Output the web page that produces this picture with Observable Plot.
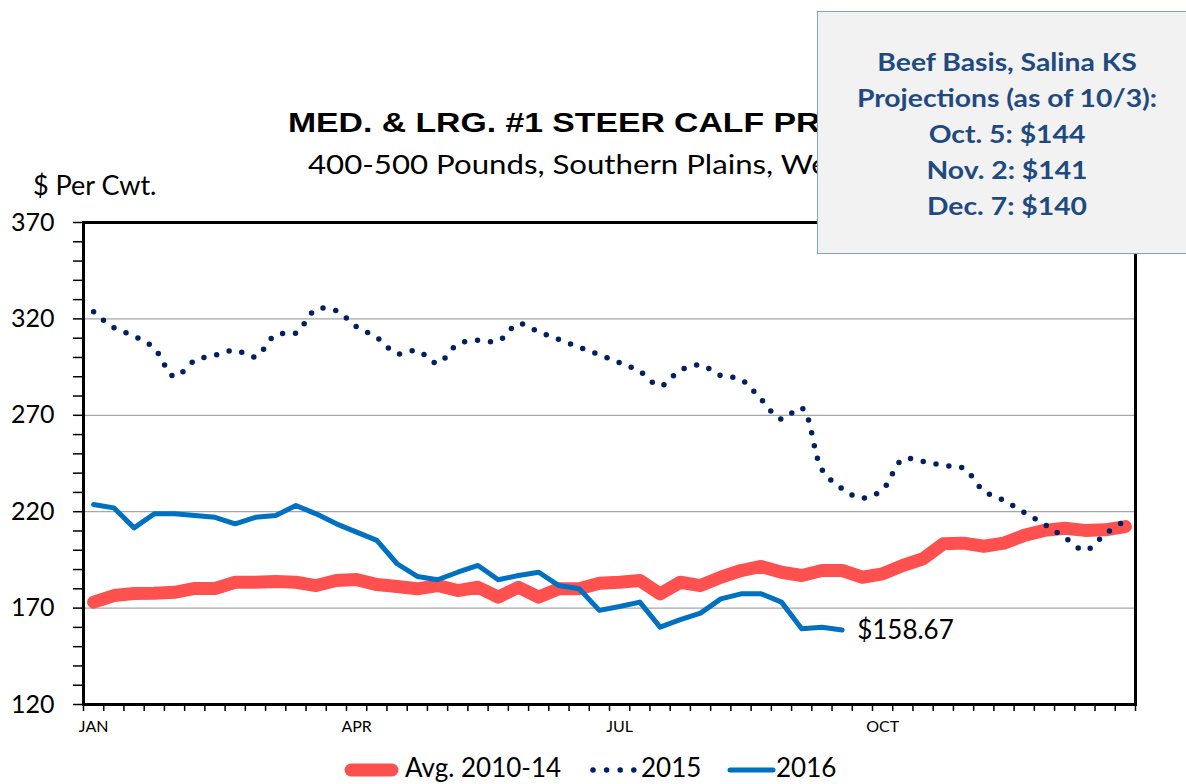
<!DOCTYPE html>
<html>
<head>
<meta charset="utf-8">
<script src="https://cdn.jsdelivr.net/npm/d3@7"></script>
<script src="https://cdn.jsdelivr.net/npm/@observablehq/plot@0.6"></script>
<style>
  html, body { margin: 0; padding: 0; background: #fff; }
  #wrap { position: relative; width: 1186px; height: 784px; overflow: hidden; font-family: Lato, "Open Sans", sans-serif; }
  #chart, #overlay { position: absolute; left: 0; top: 0; }
  #box { position: absolute; left: 817px; top: 11px; width: 390px; height: 243px; background: #F2F2F2; border: 1.5px solid #7FA2D2; box-sizing: border-box; }
  #boxtext { position: absolute; left: 0; top: 0; }
</style>
</head>
<body>
<div id="wrap">
  <div id="chart"></div>
  <svg id="overlay" width="1186" height="784"></svg>
  <div id="box"></div>
  <svg id="boxtext" width="1186" height="784"></svg>
</div>
<script>
// ---- Data (weekly, $ per cwt) ----
const weeks = d3.range(1, 53);
const avg2010_14 = [173.1,176.5,177.6,177.7,178.2,180.2,180.2,183.4,183.4,183.8,
  183.4,181.7,184.3,184.8,182.2,181.2,180.0,181.7,179.1,180.8,
  175.7,180.8,175.7,180.0,180.0,182.9,183.4,184.3,177.4,183.4,
  181.7,186.0,189.5,191.6,188.6,186.9,189.5,189.5,186.0,187.8,
  192.1,195.6,203.4,203.7,202.1,203.7,207.7,210.3,211.4,210.3,
  210.6,212.3];
const y2015 = [323.7,315.4,311.1,304.7,290.0,298.4,301.2,303.7,300.4,311.8,
  312.7,325.0,324.2,315.9,310.4,302.0,303.6,297.0,306.9,308.9,
  308.5,317.5,313.3,309.4,305.3,301.4,297.3,292.7,285.2,293.3,
  296.0,290.6,288.6,278.2,268.0,273.8,241.9,231.9,227.0,231.5,
  247.2,246.0,244.0,242.5,230.8,225.8,219.6,213.4,206.6,200.0,
  208.4,215.5];
const y2016 = [223.7,222.0,211.6,218.9,218.9,218.0,217.1,213.7,217.1,218.0,
  223.2,218.9,213.7,209.4,205.1,193.0,186.4,184.7,188.6,192.1,
  184.7,186.9,188.6,181.7,180.0,168.8,170.8,173.1,160.1,164.0,
  167.4,174.8,177.4,177.4,173.1,159.3,160.1,158.67];
const monthLabels = ["JAN", "APR", "JUL", "OCT"];
const monthStartWeek = [1, 14, 27, 40];
const yMajorTicks = [120, 170, 220, 270, 320, 370];
const yGridValues = [170, 220, 270, 320];
const lastLabel = "$158.67";
const seriesNames = ["Avg. 2010-14", "2015", "2016"];
const titleText = "MED. & LRG. #1 STEER CALF PRICES";
const subtitleText = "400-500 Pounds, Southern Plains, Weekly";
const yUnit = "$ Per Cwt.";
const boxLines = ["Beef Basis, Salina KS", "Projections (as of 10/3):", "Oct. 5: $144", "Nov. 2: $141", "Dec. 7: $140"];

// ---- Build tables ----
const toRows = arr => arr.map((v, i) => ({week: weeks[i], x: weeks[i] - 0.5, v}));
const avgRows = toRows(avg2010_14);
const r2015 = toRows(y2015);
const r2016 = toRows(y2016);
const last2016 = r2016[r2016.length - 1];

const colors = {avg: "#FF5050", y2015: "#002060", y2016: "#0070C0"};

const chart = Plot.plot({
  width: 1186,
  height: 784,
  marginLeft: 83,
  marginRight: 51,
  marginTop: 222,
  marginBottom: 80,
  style: {fontFamily: "Lato, 'Open Sans', sans-serif", color: "#000", background: "transparent"},
  x: {type: "linear", domain: [0, 52]},
  y: {type: "linear", domain: [120, 370]},
  marks: [
    Plot.ruleY(yGridValues, {stroke: "#A6A6A6", strokeWidth: 1.3}),
    Plot.axisY({ticks: d3.range(120, 371, 10), tickSize: 10, tickFormat: () => "", strokeWidth: 1.5, label: null}),
    Plot.axisY({ticks: yMajorTicks, tickSize: 0, tickPadding: 29, fontSize: 25, label: null}),
    Plot.axisX({ticks: d3.range(0, 53), tickSize: 7, tickFormat: () => "", strokeWidth: 1.5, label: null}),
    Plot.text(monthLabels, {x: (d, i) => monthStartWeek[i] - 0.5, frameAnchor: "bottom", dy: 27, fontSize: 16, text: d => d}),
    Plot.line(avgRows, {x: "x", y: "v", stroke: colors.avg, strokeWidth: 13, strokeLinecap: "round", strokeLinejoin: "round"}),
    Plot.line(r2015, {x: "x", y: "v", stroke: colors.y2015, strokeWidth: 5.5, strokeDasharray: "0 13", strokeLinecap: "round", curve: "catmull-rom"}),
    Plot.line(r2016, {x: "x", y: "v", stroke: colors.y2016, strokeWidth: 5, strokeLinecap: "round", strokeLinejoin: "round"}),
    Plot.text([last2016], {x: "x", y: "v", text: () => lastLabel, textAnchor: "start", dx: 15, dy: 1, fontSize: 26}),
    Plot.frame({stroke: "#000", strokeWidth: 3})
  ]
});
document.getElementById("chart").appendChild(chart);

// ---- Overlay: titles, unit label, legend ----
const ov = d3.select("#overlay");
ov.append("text").attr("transform", "translate(288,132) scale(1.25,1)").attr("font-family", "'Liberation Sans', Arial, sans-serif")
  .attr("font-weight", "bold").attr("font-size", 27).attr("fill", "#000").text(titleText);
ov.append("text").attr("transform", "translate(308,174) scale(1.2,1)").attr("font-family", "Lato, sans-serif")
  .attr("font-size", 26).attr("fill", "#000").text(subtitleText);
ov.append("text").attr("x", 33).attr("y", 195).attr("font-family", "Lato, sans-serif")
  .attr("font-size", 27).attr("fill", "#000").text(yUnit);

// legend
const ly = 770, lb = 777;
ov.append("line").attr("x1", 351).attr("x2", 392).attr("y1", ly).attr("y2", ly)
  .attr("stroke", colors.avg).attr("stroke-width", 13).attr("stroke-linecap", "round");
ov.append("text").attr("x", 405).attr("y", lb).attr("font-family", "Lato, sans-serif").attr("font-size", 26).text(seriesNames[0]);
ov.append("line").attr("x1", 593).attr("x2", 634).attr("y1", ly).attr("y2", ly)
  .attr("stroke", colors.y2015).attr("stroke-width", 5.5).attr("stroke-dasharray", "0 13.6").attr("stroke-linecap", "round");
ov.append("text").attr("x", 641).attr("y", lb).attr("font-family", "Lato, sans-serif").attr("font-size", 26).text(seriesNames[1]);
ov.append("line").attr("x1", 730).attr("x2", 773).attr("y1", ly).attr("y2", ly)
  .attr("stroke", colors.y2016).attr("stroke-width", 5).attr("stroke-linecap", "round");
ov.append("text").attr("x", 776).attr("y", lb).attr("font-family", "Lato, sans-serif").attr("font-size", 26).text(seriesNames[2]);

// ---- Box text ----
const bt = d3.select("#boxtext");
boxLines.forEach((t, i) => {
  bt.append("text").attr("transform", `translate(1007,${71 + i * 36}) scale(1.18,1)`).attr("text-anchor", "middle")
    .attr("font-family", "Lato, sans-serif").attr("font-weight", "bold").attr("font-size", 24)
    .attr("fill", "#1F4A80").text(t);
});
</script>
</body>
</html>
